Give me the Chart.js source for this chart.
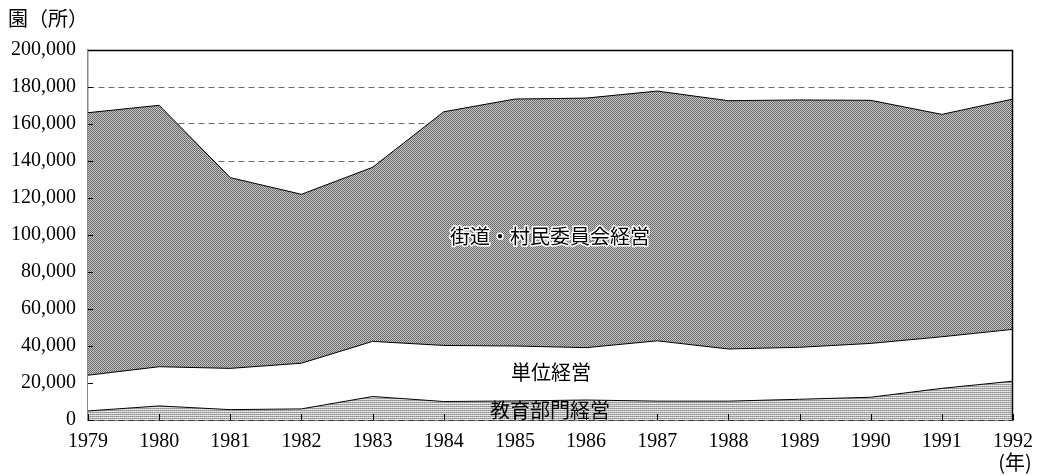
<!DOCTYPE html>
<html><head><meta charset="utf-8">
<script src="https://cdn.jsdelivr.net/npm/chart.js@4.4.1/dist/chart.umd.min.js"></script>
<style>html,body{margin:0;padding:0;background:#fff;}#wrap{width:1043px;height:476px;}</style>
</head><body><div id="wrap"><canvas id="c" width="1043" height="476"></canvas></div>
<script>
const years = ['1979','1980','1981','1982','1983','1984','1985','1986','1987','1988','1989','1990','1991','1992'];
const eduDept = [4900, 7600, 5600, 6000, 12700, 10000, 10300, 10800, 10200, 10200, 11200, 12300, 17100, 21000];
const unitRun = [19300, 21200, 22300, 24700, 29800, 30300, 29700, 28300, 32600, 28200, 28100, 29100, 27900, 28000];
const streetVillage = [141900, 141300, 103100, 91300, 94100, 126300, 133500, 134900, 135000, 134200, 133700, 131400, 120200, 124500];
const seriesNames = ['教育部門経営', '単位経営', '街道・村民委員会経営'];
const yTicks = [0, 20000, 40000, 60000, 80000, 100000, 120000, 140000, 160000, 180000, 200000];

function makePattern(rows) {
  const c = document.createElement('canvas');
  c.width = rows[0].length; c.height = rows.length;
  const g = c.getContext('2d');
  rows.forEach((r, y) => r.forEach((col, x) => { g.fillStyle = col; g.fillRect(x, y, 1, 1); }));
  return g.createPattern(c, 'repeat');
}
const ctx = document.getElementById('c').getContext('2d');
const topPat = makePattern([
  ['#626262', '#c8c8c8'],
  ['#c8c8c8', '#6e6e6e']
]);
const botPat = makePattern([
  ['#8c8c8c', '#ababab'],
  ['#e0e0e0', '#e8e8e8']
]);

const serif = "'Liberation Serif', 'Times New Roman', serif";
const cjk = "'Noto Sans CJK JP', sans-serif";

const decor = {
  id: 'decor',
  afterDatasetsDraw(chart) {
    const { ctx, chartArea: a } = chart;
    const xs = chart.scales.x, ys = chart.scales.y;
    ctx.save();
    ctx.strokeStyle = '#000'; ctx.lineWidth = 1.5;
    ctx.beginPath();
    ctx.moveTo(a.left, a.top + 0.5); ctx.lineTo(a.right - 0.5, a.top + 0.5);
    ctx.lineTo(a.right - 0.5, a.bottom); ctx.stroke();
    ctx.lineWidth = 1; ctx.strokeStyle = '#000';
    years.forEach((y, i) => {
      const px = Math.round(xs.getPixelForValue(i)) + 0.5;
      ctx.beginPath(); ctx.moveTo(px, a.bottom); ctx.lineTo(px, a.bottom - 6); ctx.stroke();
    });
    yTicks.forEach(v => {
      const py = Math.round(ys.getPixelForValue(v)) + 0.5;
      ctx.beginPath(); ctx.moveTo(a.left, py); ctx.lineTo(a.left + 5, py); ctx.stroke();
    });
    ctx.textAlign = 'center'; ctx.textBaseline = 'middle';
    ctx.font = '20px ' + cjk;
    ctx.lineWidth = 3; ctx.strokeStyle = '#fff'; ctx.lineJoin = 'round';
    ctx.strokeText(seriesNames[2], 550, 236);
    ctx.fillStyle = '#000';
    ctx.fillText(seriesNames[2], 550, 236);
    ctx.fillText(seriesNames[1], 551, 372);
    ctx.fillText(seriesNames[0], 550, 410);
    ctx.font = '20px ' + cjk;
    ctx.textAlign = 'left';
    ctx.fillText('園（所）', 8, 18);
    ctx.textAlign = 'center';
    ctx.fillText('(年)', 1015, 462);
    ctx.restore();
  }
};

new Chart(ctx, {
  type: 'line',
  data: {
    labels: years,
    datasets: [
      { label: seriesNames[0], data: eduDept, fill: 'origin', backgroundColor: botPat, borderColor: '#000', borderWidth: 1, pointRadius: 0, tension: 0 },
      { label: seriesNames[1], data: unitRun, fill: '-1', backgroundColor: '#fff', borderColor: '#000', borderWidth: 1, pointRadius: 0, tension: 0 },
      { label: seriesNames[2], data: streetVillage, fill: '-1', backgroundColor: topPat, borderColor: '#000', borderWidth: 1, pointRadius: 0, tension: 0 }
    ]
  },
  options: {
    responsive: false,
    animation: false,
    devicePixelRatio: 1,
    layout: { padding: { left: 0, top: 50, right: 28, bottom: 0 } },
    plugins: { legend: { display: false }, tooltip: { enabled: false } },
    scales: {
      x: {
        offset: false,
        grid: { display: false, drawTicks: false },
        border: { display: true, color: '#000', width: 1.5 },
        ticks: { color: '#000', font: { family: serif, size: 20 }, padding: 10, maxRotation: 0, autoSkip: false },
        afterFit(s) { s.height = 56; }
      },
      y: {
        stacked: true,
        min: 0, max: 200000,
        afterBuildTicks(s) { s.ticks = yTicks.map(v => ({ value: v })); },
        grid: { color: '#6a6a6a', lineWidth: 1, drawTicks: false },
        border: { display: true, color: '#888', width: 1.5, dash: [6, 4] },
        ticks: { color: '#000', font: { family: serif, size: 20 }, padding: 12,
          callback: v => v.toLocaleString('en-US') },
        afterFit(s) { s.width = 88; }
      }
    }
  },
  plugins: [decor]
});
</script></body></html>
